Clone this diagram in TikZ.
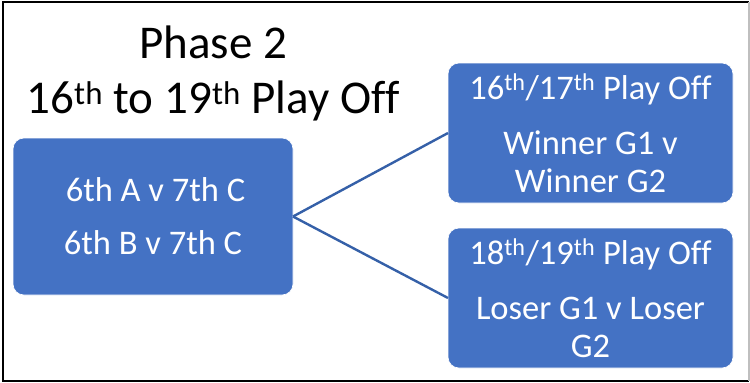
\documentclass[tikz,border=0pt]{standalone}
\usepackage{fontspec}
\setmainfont[Ligatures=NoCommon]{Carlito}
\usepackage{tikz}
\usetikzlibrary{positioning}

\definecolor{boxblue}{HTML}{4472C4}
\definecolor{lineblue}{HTML}{3560A8}

\begin{document}
\begin{tikzpicture}[x=1pt, y=-1pt,
	every node/.style={inner sep=0pt, outer sep=0pt},
	gamebox/.style={draw=white, line width=0.6pt, fill=boxblue, rounded corners=11pt,
		text=white, align=center, font=\fontsize{34.5}{38}\selectfont},
	link/.style={draw=lineblue, line width=2.4pt}]
\useasboundingbox (0,0) rectangle (750,383);

% frame round the whole slide
\draw[line width=2.5pt] (749,2) -- (3,2) -- (3,381) -- (749,381);
\draw[gray!50, line width=1.5pt] (749,2) -- (749,381);

% heading
\node[align=center, font=\fontsize{47}{55}\selectfont] (title) at (213,73)
	{Phase 2\\16\textsuperscript{th} to 19\textsuperscript{th} Play Off};

% the two first games on the left
\node[gamebox, minimum width=280pt, minimum height=157pt] (games) at (153,216.5)
	{\hspace*{5pt}6th A v 7th C\\[15pt]6th B v 7th C};

% the two play offs on the right
\node[gamebox, minimum width=285pt, minimum height=140pt] (upper) at (590.5,133)
	{16\textsuperscript{th}/17\textsuperscript{th} Play Off\\[17pt]Winner G1 v\\Winner G2};
\node[gamebox, minimum width=285pt, minimum height=140pt, below=25pt of upper] (lower)
	{18\textsuperscript{th}/19\textsuperscript{th} Play Off\\[17pt]Loser G1 v Loser\\G2};

% connectors
\draw[link] (games.east) -- (upper.west);
\draw[link] (games.east) -- (lower.west);
\end{tikzpicture}
\end{document}
